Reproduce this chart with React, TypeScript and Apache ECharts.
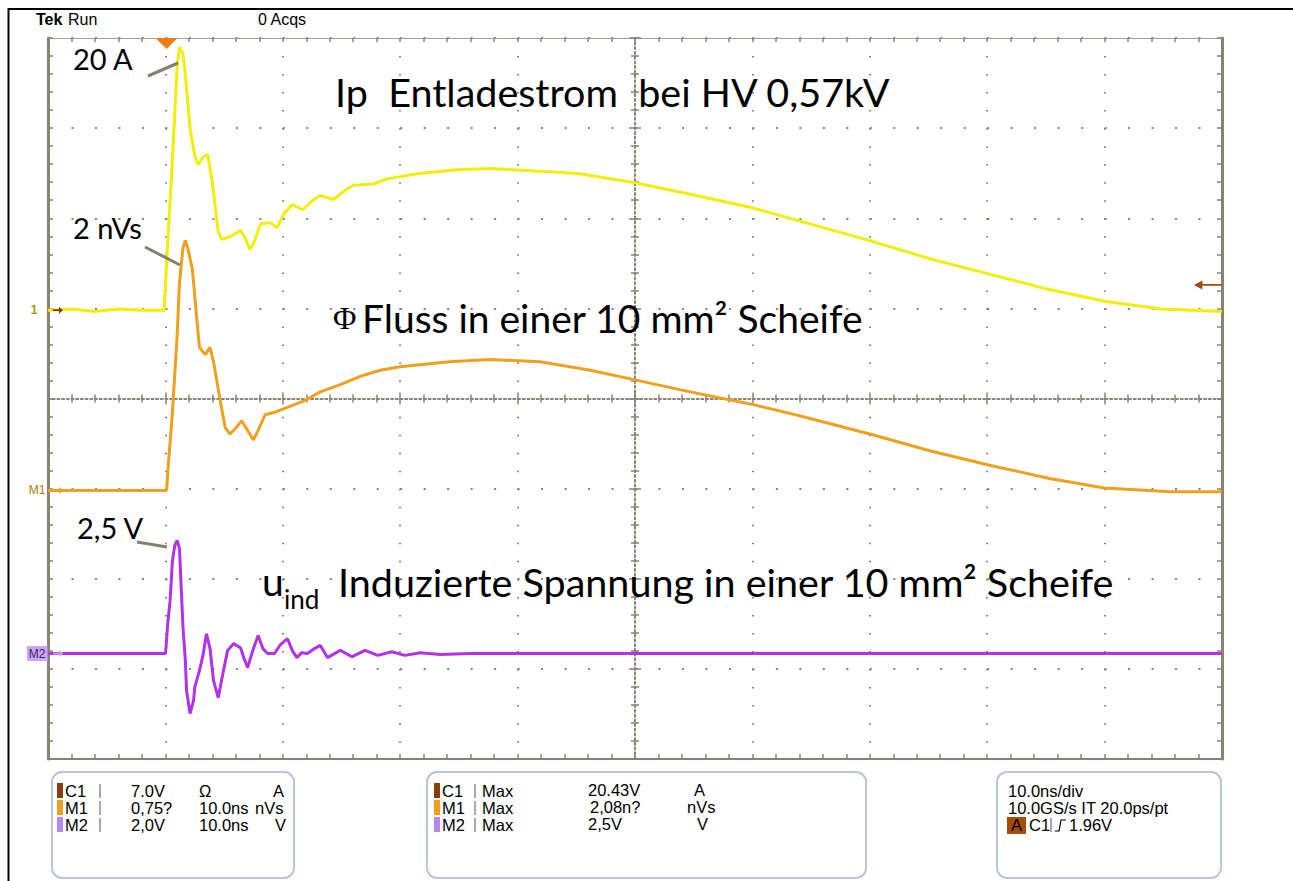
import React, { useEffect, useRef } from "react";
import * as echarts from "echarts";

// ---------------- data, time in ns ----------------
const c1Time = [0, 2, 4, 6, 8, 9.9, 10.1, 10.6, 11.0, 11.2, 11.5, 11.7, 12.1, 12.5, 12.8, 13.2, 13.6, 14.0, 14.5, 14.8, 15.5, 16.4, 16.8, 17.2, 17.6, 18.1, 18.9, 19.5, 20.1, 20.8, 21.7, 22.5, 23.2, 24.3, 25.3, 26.0, 27.7, 28.9, 31.4, 34.8, 37.6, 41.9, 45.3, 50, 54.7, 59.8, 64.9, 70.0, 75.1, 80.2, 85.3, 90.0, 94.8, 100];
const c1Current = [0, 0.1, -0.1, 0.1, 0, 0, 3.7, 11.7, 19.0, 20.43, 19.9, 18.3, 14.1, 12.0, 11.3, 11.9, 12.1, 9.9, 6.1, 5.5, 5.7, 6.2, 5.6, 4.7, 5.4, 6.7, 6.8, 6.4, 7.5, 8.2, 7.8, 8.5, 8.9, 8.6, 9.3, 9.7, 9.8, 10.2, 10.6, 10.9, 11.0, 10.8, 10.6, 9.9, 9.0, 8.0, 6.7, 5.4, 4.0, 2.8, 1.6, 0.7, 0.1, -0.1];

const m1Time = [0, 3, 6, 9, 10.1, 10.2, 10.6, 11.0, 11.2, 11.5, 11.7, 11.9, 12.3, 12.7, 12.9, 13.4, 13.8, 14.1, 14.7, 15.1, 15.5, 16.0, 16.5, 17.0, 17.5, 17.9, 18.5, 19.3, 20.6, 21.9, 23.2, 24.9, 26.6, 28.3, 30.0, 34.2, 37.6, 41.9, 46.2, 50, 54.7, 59.8, 64.1, 70.0, 75.1, 80.2, 85.3, 90, 95.6, 100];
const m1Flux = [0, 0, 0, 0, 0, 0.15, 0.65, 1.29, 1.73, 2.02, 2.08, 2.02, 1.84, 1.40, 1.19, 1.13, 1.19, 1.07, 0.73, 0.52, 0.47, 0.52, 0.58, 0.50, 0.42, 0.50, 0.63, 0.65, 0.70, 0.75, 0.82, 0.88, 0.95, 1.00, 1.03, 1.07, 1.09, 1.07, 1.00, 0.92, 0.82, 0.72, 0.62, 0.47, 0.33, 0.21, 0.10, 0.02, -0.01, -0.01];

const m2Time = [0, 4, 8, 10.0, 10.05, 10.2, 10.4, 10.6, 10.8, 11.0, 11.2, 11.3, 11.5, 11.7, 11.8, 12.1, 12.4, 12.5, 12.9, 13.2, 13.5, 13.8, 14.1, 14.5, 14.9, 15.3, 15.8, 16.4, 16.7, 17.0, 17.5, 17.9, 18.3, 18.7, 19.3, 19.8, 20.4, 20.8, 21.2, 21.6, 22.1, 22.7, 23.2, 23.8, 24.9, 25.9, 27.0, 28.1, 29.3, 30.4, 31.7, 33.4, 36, 40, 50, 60, 70, 80, 90, 100];
const m2Voltage = [0, 0, 0, 0, 0.13, 0.67, 1.18, 2.06, 2.40, 2.51, 2.33, 1.73, 0.58, -0.16, -0.82, -1.33, -1.04, -0.75, -0.38, -0.04, 0.44, 0.11, -0.60, -0.98, -0.44, 0.07, 0.22, 0.13, -0.11, -0.31, 0.11, 0.40, 0.11, 0, 0, 0.2, 0.33, 0.07, -0.09, 0.02, 0, 0.11, 0.18, -0.09, 0.07, -0.07, 0.07, -0.04, 0.04, -0.04, 0.02, -0.02, 0, 0, 0, 0, 0, 0, 0, 0];

// channel settings: units per division, and vertical position in divisions
const channelNames = ["C1", "M1", "M2"];
const channelScale = [7.0, 0.75, 2.0];
const channelOffset = [0.98, -1.02, -2.83];
const triggerLevel = 1.96; // on C1
const triggerTime = 10.1; // ns

// readouts
const box1Labels = ["C1", "M1", "M2"];
const box1Scale = ["7.0V", "0,75?", "2,0V"];
const box1Mid = ["Ω", "10.0ns", "10.0ns"];
const box1Unit = ["A", "nVs", "V"];
const box2Values = ["20.43V", "2,08n?", "2,5V"];
const box2Unit = ["A", "nVs", "V"];
const box3Lines = ["10.0ns/div", "10.0GS/s IT 20.0ps/pt"];
const triggerText = "1.96V";

// annotations
const calloutTexts = ["20 A", "2 nVs", "2,5 V"];
const titleC1 = "Ip  Entladestrom  bei HV 0,57kV";
const titleM1 = "Fluss in einer 10 mm² Scheife";
const titleM2 = "Induzierte Spannung in einer 10 mm² Scheife";

// ---------------- styles ----------------
const FRAME = "#8a8272";
const YELLOW = "#f2ee08";
const ORANGE = "#eda11f";
const PURPLE = "#b232e8";
const SANS = "Liberation Sans";
const CAL = "Lato";

const toDiv = (ts: number[], vs: number[], ch: number) =>
  ts.map((t, i) => [t, vs[i] / channelScale[ch] + channelOffset[ch]]);

const tickLS = { color: FRAME, width: 1.5 };

function xAxis(extra: any) {
  return {
    type: "value",
    min: 0,
    max: 100,
    interval: 10,
    axisLabel: { show: false },
    splitLine: { show: false },
    ...extra,
  };
}
function yAxis(extra: any) {
  return {
    type: "value",
    min: -4,
    max: 4,
    interval: 1,
    axisLabel: { show: false },
    splitLine: { show: false },
    ...extra,
  };
}

function channelMarkers(ch: number, label: string, labelStyle: any, arrowColor: string, dist: number) {
  return [
    {
      coord: [0, channelOffset[ch]],
      symbol: "path://M0,3L6,3L6,0L10,4L6,8L6,5L0,5Z",
      symbolSize: [10, 7],
      symbolOffset: [10, 0],
      itemStyle: { color: arrowColor },
      label: { show: false },
    },
    {
      coord: [0, channelOffset[ch]],
      symbol: "circle",
      symbolSize: 1,
      itemStyle: { color: "rgba(0,0,0,0)" },
      label: { show: true, position: "left", distance: dist, formatter: label, fontFamily: SANS, fontSize: 12, ...labelStyle },
    },
  ];
}

function buildOption() {
  const g: any[] = [];
  const text = (x: number, y: number, t: string, size: number, extra: any = {}) =>
    g.push({
      type: "text",
      x,
      y,
      z: 50,
      style: { text: t, fontSize: size, fontFamily: CAL, fill: "#000", align: "left", verticalAlign: "middle", ...extra },
    });
  const line = (x1: number, y1: number, x2: number, y2: number, stroke: string, w: number) =>
    g.push({ type: "line", z: 50, shape: { x1, y1, x2, y2 }, style: { stroke, lineWidth: w } });

  // outer black frame (top + left)
  line(8, 9, 1293, 9, "#000", 2);
  line(8.5, 8, 8.5, 881, "#000", 2);

  // header
  text(36, 19, "Tek", 16, { fontFamily: SANS, fontWeight: "bold" });
  text(68, 19, "Run", 16, { fontFamily: SANS });
  text(258, 19, "0 Acqs", 16, { fontFamily: SANS });

  // annotations
  text(73, 58, calloutTexts[0], 29);
  text(73, 227, calloutTexts[1], 29);
  text(77, 527, calloutTexts[2], 29);
  line(148, 76, 178, 63, "#877e6e", 3);
  line(145, 247, 180, 265, "#877e6e", 3);
  line(137, 542, 167, 547, "#877e6e", 3);
  text(335, 91, titleC1, 39.5);
  text(333, 318, "Φ", 32, { fontFamily: "Liberation Serif" });
  text(362, 318, titleM1, 39);
  text(262, 581, "u", 39);
  text(284, 599, "ind", 26);
  text(338, 581, titleM2, 39.5);

  // readout boxes
  const boxStyle = { fill: "#fff", stroke: "#b7c7d9", lineWidth: 2 };
  g.push({ type: "rect", z: 40, shape: { x: 52, y: 772, width: 242, height: 106, r: 10 }, style: boxStyle });
  g.push({ type: "rect", z: 40, shape: { x: 427, y: 772, width: 439, height: 106, r: 10 }, style: boxStyle });
  g.push({ type: "rect", z: 40, shape: { x: 997, y: 772, width: 224, height: 106, r: 10 }, style: boxStyle });

  const rowY = [791, 808, 825];
  const swatch = ["#8a3f08", ORANGE, "#b987f0"];
  const fs = 16.5;
  const box1UnitX = [273, 255, 275];
  const box2UnitX = [694, 687, 697];
  const box2ValX = [588, 590, 588];
  for (let i = 0; i < 3; i++) {
    const y = rowY[i];
    // box 1
    g.push({ type: "rect", z: 50, shape: { x: 57, y: y - 8, width: 6, height: 15 }, style: { fill: swatch[i] } });
    text(65, y, box1Labels[i], fs, { fontFamily: SANS });
    line(100, y - 7, 100, y + 7, "#555", 1);
    text(131, y, box1Scale[i], fs, { fontFamily: SANS });
    text(199, y, box1Mid[i], fs, { fontFamily: SANS });
    text(box1UnitX[i], y, box1Unit[i], fs, { fontFamily: SANS });
    // box 2
    g.push({ type: "rect", z: 50, shape: { x: 434, y: y - 8, width: 6, height: 15 }, style: { fill: swatch[i] } });
    text(442, y, channelNames[i], fs, { fontFamily: SANS });
    line(475, y - 7, 475, y + 7, "#555", 1);
    text(482, y, "Max", fs, { fontFamily: SANS });
    text(box2ValX[i], y - 1, box2Values[i], fs, { fontFamily: SANS });
    text(box2UnitX[i], y - 1, box2Unit[i], fs, { fontFamily: SANS });
  }
  // box 3
  text(1008, rowY[0], box3Lines[0], fs, { fontFamily: SANS });
  text(1008, rowY[1], box3Lines[1], fs, { fontFamily: SANS });
  g.push({ type: "rect", z: 50, shape: { x: 1007, y: rowY[2] - 8, width: 19, height: 17 }, style: { fill: "#a44c08" } });
  text(1016.5, rowY[2], "A", fs, { fontFamily: SANS, align: "center" });
  text(1029, rowY[2], "C1", fs, { fontFamily: SANS });
  line(1051, rowY[2] - 7, 1051, rowY[2] + 7, "#555", 1);
  g.push({
    type: "polyline",
    z: 50,
    shape: { points: [[1055, rowY[2] + 6], [1059, rowY[2] + 6], [1061, rowY[2] - 5], [1066, rowY[2] - 5]] },
    style: { stroke: "#000", lineWidth: 1.2, fill: null },
  });
  text(1069, rowY[2], triggerText, fs, { fontFamily: SANS });

  const lineSeries = (ch: number, data: number[][], color: string, extraMarks: any[]) => ({
    type: "line",
    name: channelNames[ch],
    data,
    xAxisIndex: 0,
    yAxisIndex: 0,
    symbol: "none",
    showSymbol: false,
    lineStyle: { color, width: 3 },
    itemStyle: { color },
    clip: true,
    markPoint: { silent: true, animation: false, data: extraMarks },
  });

  return {
    animation: false,
    backgroundColor: "#ffffff",
    grid: { left: 48, top: 38, width: 1174, height: 721, containLabel: false },
    xAxis: [
      xAxis({
        position: "bottom",
        axisLine: { show: true, onZero: false, lineStyle: { color: FRAME, width: 2 } },
        axisTick: { show: true, inside: true, length: 5, lineStyle: tickLS },
        minorTick: { show: true, splitNumber: 5, length: 5, lineStyle: tickLS },
        splitLine: { show: true, lineStyle: { color: FRAME, width: 2, type: [1.5, 16.53] } },
      }),
      xAxis({
        position: "top",
        axisLine: { show: true, onZero: false, lineStyle: { color: "#a8a090", width: 1 } },
        axisTick: { show: true, inside: true, length: 4, lineStyle: tickLS },
        minorTick: { show: true, splitNumber: 5, length: 4, lineStyle: tickLS },
      }),
      xAxis({
        position: "bottom",
        offset: -360.5,
        axisLine: { show: true, onZero: false, lineStyle: { color: FRAME, width: 2, type: [2, 2.7] } },
        axisTick: { show: true, inside: true, length: 6, lineStyle: tickLS },
        minorTick: { show: true, splitNumber: 5, length: 4, lineStyle: tickLS },
      }),
      xAxis({
        position: "bottom",
        offset: -360.5,
        axisLine: { show: false, onZero: false },
        axisTick: { show: true, inside: false, length: 6, lineStyle: tickLS },
        minorTick: { show: true, splitNumber: 5, length: 4, lineStyle: tickLS },
      }),
    ],
    yAxis: [
      yAxis({
        position: "left",
        axisLine: { show: true, onZero: false, lineStyle: { color: FRAME, width: 3 } },
        axisTick: { show: true, inside: true, length: 5, lineStyle: tickLS },
        minorTick: { show: true, splitNumber: 5, length: 5, lineStyle: tickLS },
        splitLine: { show: true, lineStyle: { color: FRAME, width: 2, type: [2, 21.48] } },
      }),
      yAxis({
        position: "right",
        axisLine: { show: true, onZero: false, lineStyle: { color: FRAME, width: 3 } },
        axisTick: { show: true, inside: true, length: 5, lineStyle: tickLS },
        minorTick: { show: true, splitNumber: 5, length: 5, lineStyle: tickLS },
      }),
      yAxis({
        position: "left",
        offset: -587,
        axisLine: { show: true, onZero: false, lineStyle: { color: FRAME, width: 2, type: [2, 2.7] } },
        axisTick: { show: true, inside: true, length: 6, lineStyle: tickLS },
        minorTick: { show: true, splitNumber: 5, length: 4, lineStyle: tickLS },
      }),
      yAxis({
        position: "left",
        offset: -587,
        axisLine: { show: false, onZero: false },
        axisTick: { show: true, inside: false, length: 6, lineStyle: tickLS },
        minorTick: { show: true, splitNumber: 5, length: 4, lineStyle: tickLS },
      }),
    ],
    series: [
      lineSeries(2, toDiv(m2Time, m2Voltage, 2), PURPLE,
        channelMarkers(2, "M2", { color: "#3d1e63", backgroundColor: "#c9a6f2", padding: [2, 2, 1, 2] }, "#c4a0f0", 0)),
      lineSeries(1, toDiv(m1Time, m1Flux, 1), ORANGE,
        channelMarkers(1, "M1", { color: "#b0760a" }, "#e8a020", 2)),
      lineSeries(0, toDiv(c1Time, c1Current, 0), YELLOW, [
        ...channelMarkers(0, "1", { color: "#a39a00", fontWeight: "bold" }, "#8b3a0a", 10),
        {
          coord: [triggerTime, 4],
          symbol: "triangle",
          symbolRotate: 180,
          symbolSize: [22, 11],
          symbolOffset: [0, 5.5],
          itemStyle: { color: "#f07c14" },
          label: { show: false },
        },
        {
          coord: [100, channelOffset[0] + triggerLevel / channelScale[0]],
          symbol: "path://M0,5L9,0L9,4L30,4L30,6L9,6L9,10Z",
          symbolSize: [28, 9],
          symbolOffset: [-14, 0],
          itemStyle: { color: "#a34a0c" },
          label: { show: false },
        },
      ]),
    ],
    graphic: g,
  };
}

export default function App() {
  const ref = useRef<HTMLDivElement>(null);
  useEffect(() => {
    if (!ref.current) return;
    const chart = echarts.init(ref.current, null, { renderer: "svg" });
    chart.setOption(buildOption() as any);
    return () => chart.dispose();
  }, []);
  return (
    <div
      ref={ref}
      style={{ position: "absolute", left: 0, top: 0, width: 1293, height: 881, background: "#fff" }}
    />
  );
}
